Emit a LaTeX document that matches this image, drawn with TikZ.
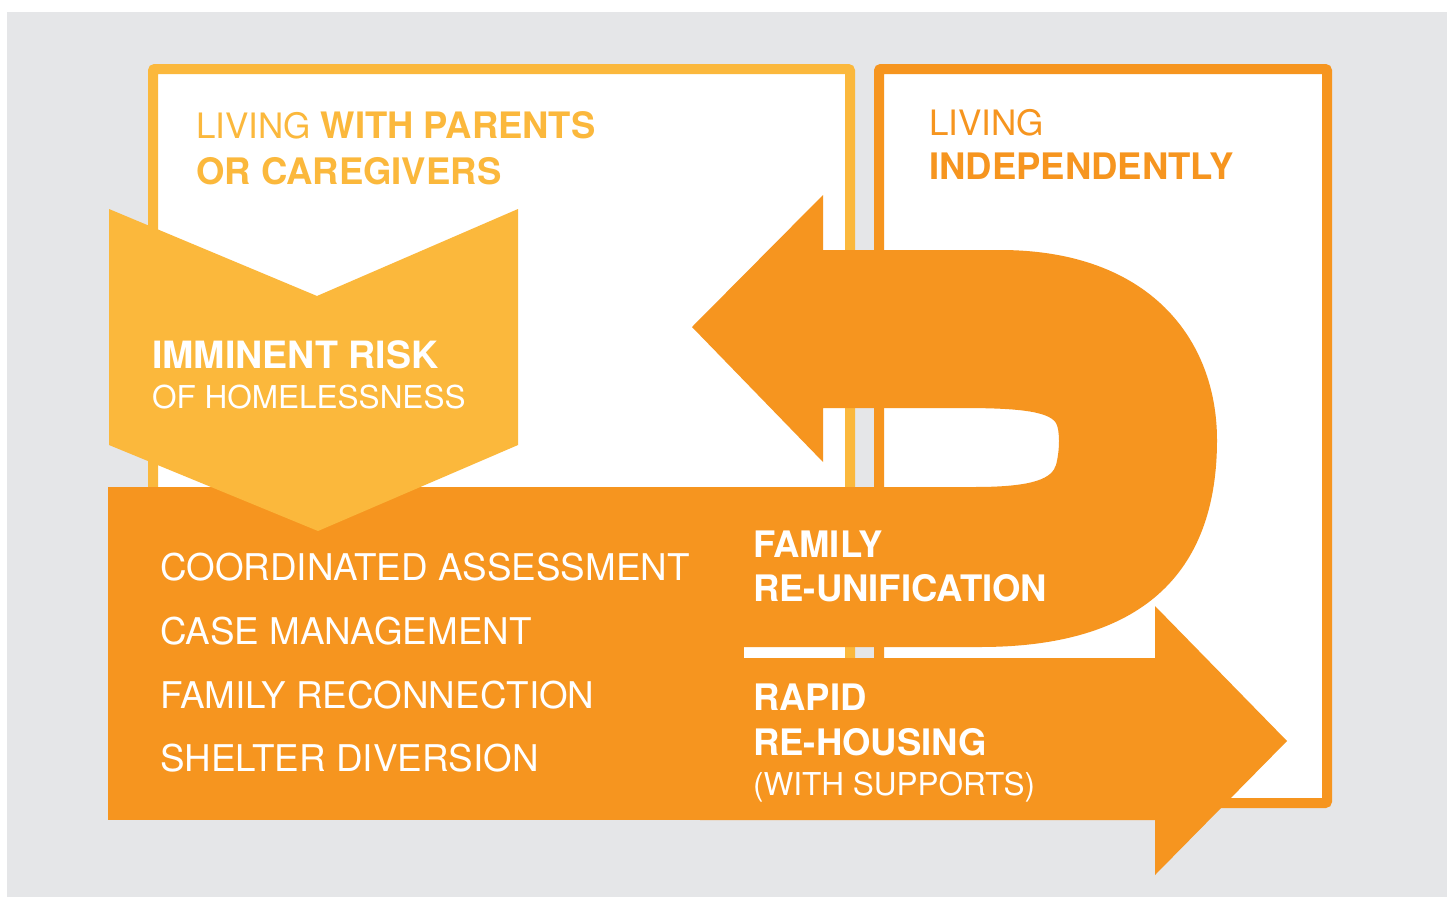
\documentclass[tikz,border=0pt]{standalone}
\usepackage{fontspec}
\setmainfont{TeX Gyre Heros}
\definecolor{bggray}{HTML}{E5E6E8}
\definecolor{famyellow}{HTML}{FBB83C}
\definecolor{famorange}{HTML}{F6951F}

\begin{document}
\begin{tikzpicture}[x=1pt,y=-1pt,
		boxline/.style={line width=10pt,fill=white,rounded corners=2pt},
		heavy/.style={anchor=base west,inner sep=0pt,font=\fontsize{36.5}{40}\selectfont\bfseries},
		light/.style={anchor=base west,inner sep=0pt,font=\fontsize{35}{40}\selectfont},
		small/.style={anchor=base west,inner sep=0pt,font=\fontsize{31.5}{36}\selectfont},
		listitem/.style={anchor=base west,inner sep=0pt,text=white,font=\fontsize{36.8}{40}\selectfont}]
				\useasboundingbox (0,0) rectangle (1452,897);
				\fill[bggray] (7,12) rectangle (1447,897);

				% the two living situations
				\draw[boxline,draw=famyellow] (153,69) rectangle (850,800);
				\draw[boxline,draw=famorange] (879,69) rectangle (1327,803);

				\node[light,text=famyellow] (parents) at (196,138) {LIVING \fontsize{36.4}{40}\selectfont\bfseries WITH PARENTS};
				\node[heavy,text=famyellow] (caregivers) at (196,184) {OR CAREGIVERS};
				\node[light,text=famorange] (living) at (929,135) {LIVING};
				\node[heavy,text=famorange] (independent) at (929,179) {INDEPENDENTLY};

				% services band
				\fill[famorange] (108,487) rectangle (744,820);

				% re-unification u-turn
				\fill[famorange] (692,327) -- (823,195) -- (823,250) -- (1000,250)
					.. controls (1150,250) and (1217,340) .. (1217,440)
					.. controls (1217,575) and (1140,647) .. (980,647)
					-- (700,647) -- (700,487) -- (975,487)
					.. controls (1035,487) and (1052,478) .. (1056,465)
					.. controls (1060,450) and (1060,430) .. (1056,423)
					.. controls (1048,410) and (1010,408) .. (960,408)
					-- (823,408) -- (823,462) -- cycle;

				% rapid re-housing arrow
				\fill[famorange] (700,658) -- (1155,658) -- (1155,606) -- (1287,741)
					-- (1155,875) -- (1155,820) -- (700,820) -- cycle;

				% risk chevron
				\fill[famyellow] (109,209) -- (317,296) -- (518,209) -- (518,445)
					-- (318,531) -- (109,445) -- cycle;
				\node[heavy,text=white,font=\fontsize{37.6}{40}\selectfont\bfseries] (risk) at (152,368) {IMMINENT RISK};
				\node[small,text=white] (homeless) at (152,408) {OF HOMELESSNESS};

				\node[listitem] (assess) at (160,580) {COORDINATED ASSESSMENT};
				\node[listitem] (casemgmt) at (160,644) {CASE MANAGEMENT};
				\node[listitem] (reconnect) at (160,708) {FAMILY RECONNECTION};
				\node[listitem] (diversion) at (160,771) {SHELTER DIVERSION};

				\node[heavy,text=white] (family) at (753,557) {FAMILY};
				\node[heavy,text=white] (reunify) at (753,601) {RE-UNIFICATION};
				\node[heavy,text=white] (rapid) at (753,710) {RAPID};
				\node[heavy,text=white] (rehouse) at (753,755) {RE-HOUSING};
				\node[small,text=white] (supports) at (753,795) {(WITH SUPPORTS)};
			\end{tikzpicture}
\end{document}
